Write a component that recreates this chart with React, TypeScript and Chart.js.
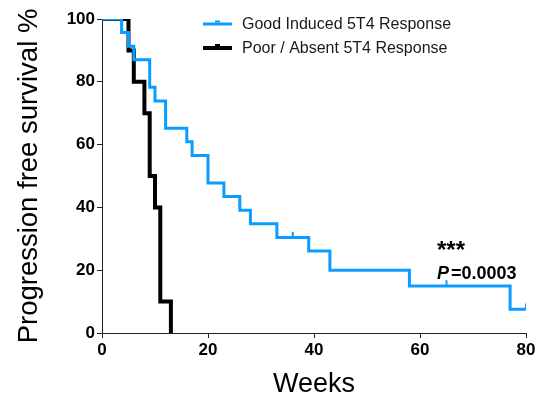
import React, { useEffect, useRef } from "react";
import { Chart, registerables } from "chart.js";

Chart.register(...registerables);

// Kaplan–Meier step data (weeks, % progression free)
const goodWeeks = [0, 3.7, 5, 6, 9, 10, 12, 16, 17, 20, 23, 26, 28, 33, 39, 43, 58, 77, 80];
const goodSurvival = [100, 95.7, 91.3, 87, 78.3, 73.9, 65.2, 60.9, 56.5, 47.8, 43.5, 39.1, 34.8, 30.4, 26.1, 20, 15, 7.6, 7.6];
const goodCensorWeeks = [36, 65, 80];
const goodCensorSurvival = [30.4, 15, 7.6];

const poorWeeks = [0, 5, 6, 8, 9, 10, 11, 13];
const poorSurvival = [100, 90, 80, 70, 50, 40, 10, 0];

const xTicks = [0, 20, 40, 60, 80];
const yTicks = [0, 20, 40, 60, 80, 100];

const seriesLabels = ["Good Induced 5T4 Response", "Poor / Absent 5T4 Response"];
const starsText = "***";
const pLabel = "P";
const pValueText = "=0.0003";

const BLUE = "#0A9CFF";
const FONT = "'Liberation Sans', Arial, Helvetica, sans-serif";

const overlayPlugin = {
  id: "overlay",
  afterDraw(chart: any) {
    const ctx = chart.ctx as CanvasRenderingContext2D;
    ctx.save();
    // legend
    const items = [
      { color: BLUE, width: 3, y: 24, text: seriesLabels[0] },
      { color: "#000", width: 4, y: 48, text: seriesLabels[1] },
    ];
    for (const it of items) {
      ctx.strokeStyle = it.color;
      ctx.lineWidth = it.width;
      ctx.beginPath();
      ctx.moveTo(203, it.y);
      ctx.lineTo(232, it.y);
      ctx.stroke();
      ctx.fillStyle = it.color;
      ctx.fillRect(215, it.y - it.width / 2 - 2, 5, 2);
      ctx.fillStyle = "#1a1a1a";
      ctx.font = `16px ${FONT}`;
      ctx.textBaseline = "middle";
      ctx.textAlign = "left";
      ctx.fillText(it.text, 242, it.y + 1);
    }
    // annotations
    ctx.fillStyle = "#000";
    ctx.textBaseline = "alphabetic";
    ctx.font = `bold 24px ${FONT}`;
    ctx.fillText(starsText, 437, 258);
    ctx.font = `italic bold 18px ${FONT}`;
    ctx.fillText(pLabel, 437, 279);
    ctx.font = `bold 18px ${FONT}`;
    ctx.fillText(pValueText, 451, 279);
    ctx.restore();
  },
};

export default function App() {
  const ref = useRef<HTMLCanvasElement>(null);

  useEffect(() => {
    if (!ref.current) return;
    Chart.defaults.color = "#000";
    const chart = new Chart(ref.current, {
      type: "line",
      data: {
        datasets: [
          {
            label: seriesLabels[0],
            data: goodWeeks.map((x, i) => ({ x, y: goodSurvival[i] })),
            borderColor: BLUE,
            borderWidth: 3,
            stepped: true,
            pointRadius: 0,
            fill: false,
          },
          {
            label: "censored",
            type: "scatter",
            data: goodCensorWeeks.map((x, i) => ({ x, y: goodCensorSurvival[i] + 1 })),
            borderColor: BLUE,
            backgroundColor: BLUE,
            pointStyle: "line",
            rotation: 90,
            pointRadius: 2.5,
            borderWidth: 2,
            showLine: false,
          } as any,
          {
            label: seriesLabels[1],
            data: poorWeeks.map((x, i) => ({ x, y: poorSurvival[i] })),
            borderColor: "#000",
            borderWidth: 4,
            stepped: true,
            pointRadius: 0,
            fill: false,
          },
        ],
      },
      options: {
        responsive: false,
        animation: false,
        layout: { padding: { left: 0, right: 15, top: 19, bottom: 0 } },
        plugins: { legend: { display: false }, tooltip: { enabled: false } },
        scales: {
          x: {
            type: "linear",
            min: 0,
            max: 80,
            afterFit: (s: any) => {
              s.height = 67;
            },
            afterBuildTicks: (s: any) => {
              s.ticks = xTicks.map((v) => ({ value: v }));
            },
            ticks: { font: { family: FONT, size: 17, weight: "bold" }, color: "#000", padding: 2, maxRotation: 0 },
            grid: { drawOnChartArea: false, drawTicks: true, tickLength: 5, color: "#222", lineWidth: 1 },
            border: { display: true, color: "#222", width: 1 },
            title: {
              display: true,
              text: "Weeks",
              color: "#000",
              font: { family: FONT, size: 27, lineHeight: 1 },
              padding: { top: 0, bottom: 2 },
            },
          },
          y: {
            min: 0,
            max: 100,
            afterFit: (s: any) => {
              s.width = 102;
            },
            afterBuildTicks: (s: any) => {
              s.ticks = yTicks.map((v) => ({ value: v }));
            },
            ticks: { font: { family: FONT, size: 17, weight: "bold" }, color: "#000", padding: 2 },
            grid: { drawOnChartArea: false, drawTicks: true, tickLength: 5, color: "#222", lineWidth: 1 },
            border: { display: true, color: "#222", width: 1 },
            title: {
              display: true,
              text: "Progression free survival %",
              color: "#000",
              font: { family: FONT, size: 27.5, lineHeight: 1 },
              padding: { top: 16, bottom: 0 },
            },
          },
        },
      },
      plugins: [overlayPlugin],
    } as any);
    return () => chart.destroy();
  }, []);

  return (
    <div style={{ position: "fixed", left: 0, top: 0, width: 541, height: 400, background: "#fff" }}>
      <canvas ref={ref} width={541} height={400} />
    </div>
  );
}
